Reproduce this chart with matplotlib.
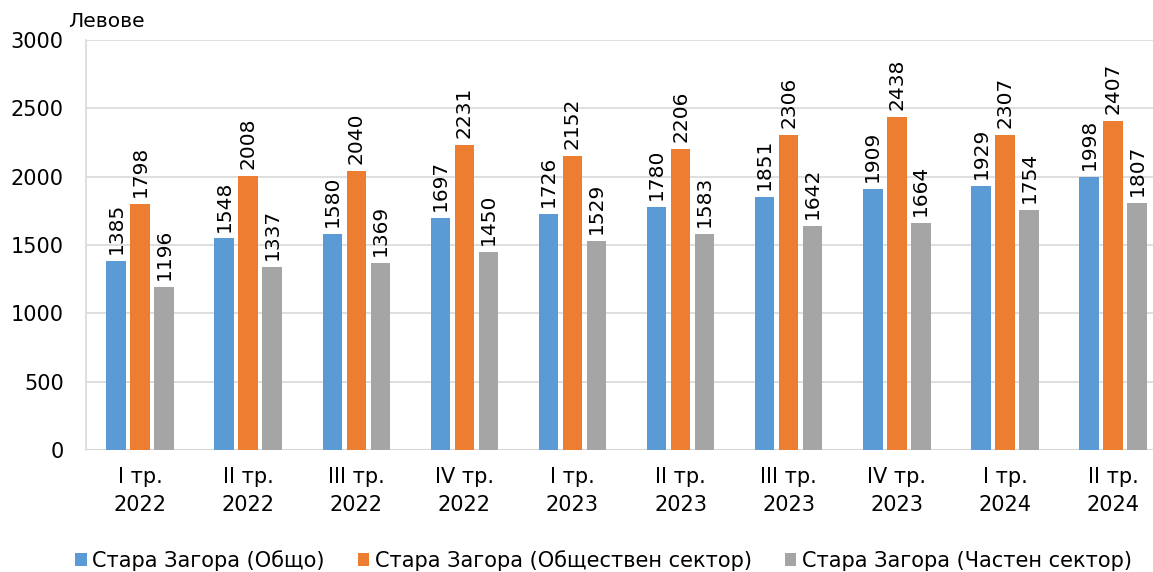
import numpy as np
import matplotlib.pyplot as plt

categories = ['I тр.\n2022', 'II тр.\n2022', 'III тр.\n2022', 'IV тр.\n2022',
              'I тр.\n2023', 'II тр.\n2023', 'III тр.\n2023', 'IV тр.\n2023',
              'I тр.\n2024', 'II тр.\n2024']
total = [1385, 1548, 1580, 1697, 1726, 1780, 1851, 1909, 1929, 1998]
public = [1798, 2008, 2040, 2231, 2152, 2206, 2306, 2438, 2307, 2407]
private = [1196, 1337, 1369, 1450, 1529, 1583, 1642, 1664, 1754, 1807]

series = [
    ('Стара Загора (Общо)', total, '#5B9BD5'),
    ('Стара Загора (Обществен сектор)', public, '#ED7D31'),
    ('Стара Загора (Частен сектор)', private, '#A5A5A5'),
]

plt.rcParams['font.family'] = ['DejaVu Sans']

fig = plt.figure(figsize=(11.53, 5.72), dpi=100)
ax = fig.add_axes([0.0746, 0.2133, 0.9254, 0.7167])

x = np.arange(len(categories))
width = 0.18
step = 0.222
for i, (name, vals, color) in enumerate(series):
    pos = x + (i - 1) * step
    bars = ax.bar(pos, vals, width=width, color=color, label=name, zorder=3)
    for b, v in zip(bars, vals):
        ax.annotate(str(v), (b.get_x() + b.get_width() / 2, v),
                    xytext=(0, 5), textcoords='offset points',
                    rotation=90, ha='center', va='bottom', fontsize=14.5)

ax.set_ylim(0, 3000)
ax.set_xlim(-0.5, 9.37)
ax.set_yticks(range(0, 3001, 500))
ax.tick_params(axis='y', labelsize=15, length=0, pad=16)
ax.set_xticks(x)
ax.set_xticklabels(categories, fontsize=15, linespacing=1.55)
ax.tick_params(axis='x', length=0, pad=12)

ax.grid(axis='y', color='#D9D9D9', linewidth=1.2, zorder=0)
for s in ['top', 'right', 'bottom']:
    ax.spines[s].set_visible(False)
ax.spines['left'].set_color('#D9D9D9')
ax.spines['left'].set_linewidth(1.2)
ax.axhline(0, color='#D9D9D9', linewidth=1.5, zorder=2)

fig.text(0.059, 0.962, 'Левове', fontsize=14.5, ha='left', va='center')

ax.legend(loc='center', bbox_to_anchor=(0.485, -0.27), ncol=3,
          frameon=False, fontsize=15, handlelength=0.55, handleheight=0.55,
          handletextpad=0.25, columnspacing=1.6)

fig.savefig('out.png', dpi=100)
